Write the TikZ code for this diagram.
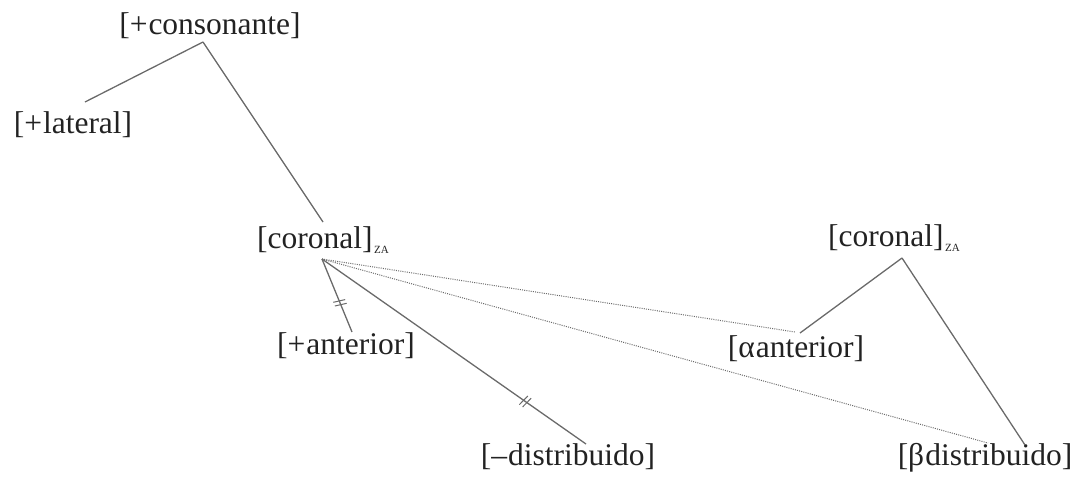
\documentclass[tikz,border=0pt]{standalone}
\usepackage{fontspec}
\setmainfont{Liberation Serif}
\usetikzlibrary{decorations.markings}
\definecolor{ink}{HTML}{222222}
\definecolor{edgegray}{HTML}{6A6A6A}
\newcommand{\zasub}{\kern1.5pt\raisebox{-5pt}{\fontsize{11}{11}\selectfont ZA}}
\begin{document}
\begin{tikzpicture}[x=1pt,y=1pt,
  feat/.style={inner sep=0pt, anchor=base, text=ink, font=\fontsize{31.5}{36}\selectfont},
  link/.style={draw=edgegray, line width=1.3pt},
  assoc/.style={draw=edgegray, line width=1pt, dash pattern=on 1pt off 1.2pt},
  cut/.style={postaction={decorate}, decoration={markings, mark=at position #1 with {\draw[edgegray, line width=1pt] (-3pt,-6pt)--(-1pt,6pt) (1pt,-6pt)--(3pt,6pt);}}}
]
\useasboundingbox (0,0) rectangle (1086,-480);

\node[feat] (cons) at (210,-34) {[+\kern1pt consonante]};
\node[feat] (lat) at (73,-133) {[+\kern1pt lateral]};
\node[feat, anchor=base west] (cor1) at (257,-248) {[coronal]\zasub};
\node[feat] (ant) at (346,-354) {[+\kern1pt anterior]};
\node[feat] (dist) at (568,-465) {[–\kern1pt distribuido]};
\node[feat] (aant) at (796,-357) {[α\kern1pt anterior]};
\node[feat, anchor=base west] (cor2) at (828,-246) {[coronal]\zasub};
\node[feat] (bdist) at (985,-465) {[β\kern1pt distribuido]};

\coordinate (consB) at (203,-42);
\coordinate (latT) at (85,-102);
\coordinate (cor1T) at (323,-222);
\coordinate (cor1B) at (322,-259);
\coordinate (antT) at (352,-332);
\coordinate (distT) at (586,-444);
\coordinate (aantT) at (800,-333);
\coordinate (aantD) at (795,-332);
\coordinate (cor2B) at (902,-258);
\coordinate (bdistT) at (1025,-445);
\coordinate (bdistD) at (988,-443);

\draw[link] (consB) -- (latT);
\draw[link] (consB) -- (cor1T);
\draw[link, cut=0.6] (cor1B) -- (antT);
\draw[link, cut=0.77] (cor1B) -- (distT);
\draw[assoc] (cor1B) -- (aantD);
\draw[assoc] (cor1B) -- (bdistD);
\draw[link] (cor2B) -- (aantT);
\draw[link] (cor2B) -- (bdistT);
\end{tikzpicture}
\end{document}
